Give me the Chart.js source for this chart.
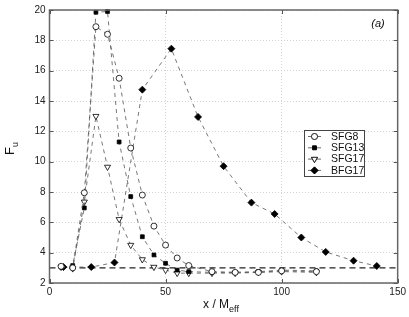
<!DOCTYPE html>
<html>
<head>
<meta charset="utf-8">
<script src="https://cdn.jsdelivr.net/npm/chart.js@4/dist/chart.umd.min.js"></script>
<style>
  html, body { margin: 0; padding: 0; background: #fff; }
  #wrap { width: 409px; height: 317px; }
</style>
</head>
<body>
<div id="wrap"><canvas id="fu"></canvas></div>
<script>
// values
const sfgX = [5, 10, 15, 20, 25, 30, 35, 40, 45, 50, 55, 60, 70, 80, 90, 100, 115];
const sfg8 = [3.1, 3.0, 7.95, 18.9, 18.4, 15.5, 10.9, 7.8, 5.75, 4.5, 3.65, 3.15, 2.75, 2.7, 2.7, 2.8, 2.75];
const sfg13 = [3.05, 3.15, 6.95, 19.85, 19.9, 11.3, 7.7, 5.05, 3.85, 3.3, 2.85, 2.75, 2.7, 2.7, 2.75, 2.85, 2.8];
const sfg17 = [3.05, 2.95, 7.35, 13.0, 9.65, 6.2, 4.5, 3.55, 3.05, 2.85, 2.65, 2.65, 2.65, 2.65, 2.7, 2.75, 2.7];
const bfgX = [6, 18, 28, 40, 52.5, 64, 75, 87, 97, 108.5, 119, 131, 141];
const bfg17 = [3.05, 3.05, 3.35, 14.75, 17.45, 12.95, 9.7, 7.3, 6.55, 5.0, 4.05, 3.47, 3.12];
const refX = [0, 150];
const refY = [3, 3];

const xTicks = [0, 50, 100, 150];
const yTicks = [2, 4, 6, 8, 10, 12, 14, 16, 18, 20];

const FONT = '"Liberation Sans", Arial, Helvetica, sans-serif';

const pts = (xs, ys) => xs.map((x, i) => ({ x, y: ys[i] }));

// styles for the four series, also used by the legend
const series = [
  { label: 'SFG8', x: sfgX, y: sfg8, style: 'circle', fill: '#fff', rot: 0, r: 3.0 },
  { label: 'SFG13', x: sfgX, y: sfg13, style: 'rect', fill: '#000', rot: 0, r: 2.7 },
  { label: 'SFG17', x: sfgX, y: sfg17, style: 'triangle', fill: '#fff', rot: 180, r: 3.5 },
  { label: 'BFG17', x: bfgX, y: bfg17, style: 'rectRot', fill: '#000', rot: 0, r: 3.5 },
];

const datasets = series.map(s => ({
  label: s.label,
  data: pts(s.x, s.y),
  showLine: true,
  clip: false,
  borderColor: '#555',
  borderWidth: 0.8,
  borderDash: [4, 4],
  pointStyle: s.style,
  rotation: s.rot,
  pointRadius: s.r,
  pointBackgroundColor: s.fill,
  pointBorderColor: '#000',
  pointBorderWidth: 0.8,
}));

datasets.push({
  label: 'ref',
  data: pts(refX, refY),
  showLine: true,
  borderColor: '#222',
  borderWidth: 1.3,
  borderDash: [6, 4],
  pointRadius: 0,
});

// frame, inward ticks, axis titles, (a) and legend box
const decor = {
  id: 'decor',
  afterDraw(chart) {
    const { ctx, chartArea: a, scales } = chart;
    ctx.save();
    ctx.strokeStyle = '#666';
    ctx.lineWidth = 1.5;
    ctx.setLineDash([]);
    ctx.strokeRect(a.left, a.top, a.right - a.left, a.bottom - a.top);

    ctx.lineWidth = 1;
    ctx.strokeStyle = '#555';
    const tl = 4;
    xTicks.forEach(v => {
      const px = Math.round(scales.x.getPixelForValue(v)) + 0.5;
      ctx.beginPath();
      ctx.moveTo(px, a.bottom); ctx.lineTo(px, a.bottom - tl);
      ctx.moveTo(px, a.top); ctx.lineTo(px, a.top + tl);
      ctx.stroke();
    });
    yTicks.forEach(v => {
      const py = Math.round(scales.y.getPixelForValue(v)) + 0.5;
      ctx.beginPath();
      ctx.moveTo(a.left, py); ctx.lineTo(a.left + tl, py);
      ctx.moveTo(a.right, py); ctx.lineTo(a.right - tl, py);
      ctx.stroke();
    });

    // x title: x / M_eff
    ctx.fillStyle = '#111';
    ctx.textBaseline = 'alphabetic';
    ctx.textAlign = 'left';
    ctx.font = '12px ' + FONT;
    const main = 'x / M';
    const w = ctx.measureText(main).width;
    ctx.font = '9px ' + FONT;
    const ws = ctx.measureText('eff').width;
    const x0 = 221 - (w + ws) / 2;
    ctx.font = '12px ' + FONT;
    ctx.fillText(main, x0, 308);
    ctx.font = '9px ' + FONT;
    ctx.fillText('eff', x0 + w, 312);

    // y title: F_u rotated
    ctx.save();
    ctx.translate(14, 150);
    ctx.rotate(-Math.PI / 2);
    ctx.font = '13px ' + FONT;
    ctx.fillText('F', -5, 0);
    const wf = ctx.measureText('F').width;
    ctx.font = '9px ' + FONT;
    ctx.fillText('u', -5 + wf, 4);
    ctx.restore();

    // panel tag
    ctx.font = 'italic 11px ' + FONT;
    ctx.textAlign = 'center';
    ctx.fillText('(a)', 378, 27);

    // legend
    const bx = 304, by = 130, bw = 60, bh = 46;
    ctx.fillStyle = '#fff';
    ctx.fillRect(bx, by, bw, bh);
    ctx.strokeStyle = '#444';
    ctx.lineWidth = 1;
    ctx.strokeRect(bx + 0.5, by + 0.5, bw, bh);
    ctx.font = '10.5px ' + FONT;
    ctx.textAlign = 'left';
    ctx.textBaseline = 'middle';
    series.forEach((s, i) => {
      const ly = by + 6.5 + i * 11.3;
      ctx.strokeStyle = '#444';
      ctx.lineWidth = 0.8;
      ctx.beginPath();
      ctx.moveTo(308, ly); ctx.lineTo(321, ly);
      ctx.stroke();
      Chart.helpers.drawPoint(ctx, {
        pointStyle: s.style, radius: s.r, rotation: s.rot, borderWidth: 0.8,
      }, 314.5, ly);
      ctx.fillStyle = s.fill;
      ctx.strokeStyle = '#000';
      ctx.fill();
      ctx.stroke();
      ctx.fillStyle = '#111';
      ctx.fillText(s.label, 331, ly + 0.5);
    });
    ctx.restore();
  }
};

new Chart(document.getElementById('fu'), {
  type: 'scatter',
  data: { datasets },
  options: {
    responsive: true,
    maintainAspectRatio: false,
    animation: false,
    layout: { padding: { top: 8, right: 10.5, left: 0, bottom: 0 } },
    plugins: { legend: { display: false }, tooltip: { enabled: false } },
    scales: {
      x: {
        type: 'linear', min: 0, max: 150,
        afterBuildTicks: sc => { sc.ticks = xTicks.map(v => ({ value: v })); },
        afterFit: sc => { sc.height = 34; },
        grid: { color: '#c8c8c8', lineWidth: 0.8, drawTicks: false },
        border: { display: false, dash: [1, 2] },
        ticks: { color: '#222', font: { family: FONT, size: 10 }, padding: 3, maxRotation: 0 },
      },
      y: {
        type: 'linear', min: 2, max: 20,
        afterBuildTicks: sc => { sc.ticks = yTicks.map(v => ({ value: v })); },
        afterFit: sc => { sc.width = 49.5; },
        grid: { color: '#c8c8c8', lineWidth: 0.8, drawTicks: false },
        border: { display: false, dash: [1, 2] },
        ticks: { color: '#222', font: { family: FONT, size: 10 }, padding: 4 },
      },
    },
  },
  plugins: [decor],
});
</script>
</body>
</html>
